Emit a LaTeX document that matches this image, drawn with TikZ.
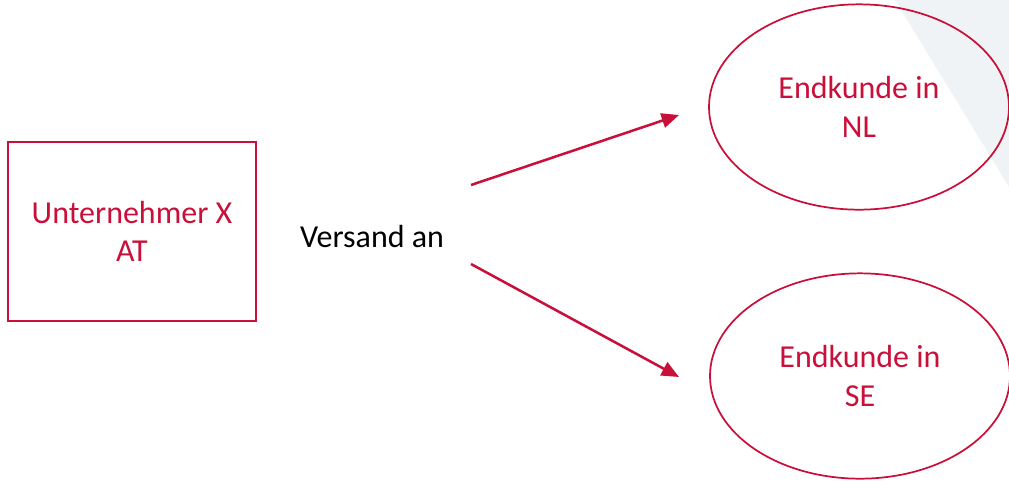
\documentclass[tikz,border=0pt]{standalone}
\usepackage{fontspec}
\setmainfont{Carlito}
\usetikzlibrary{shapes.geometric,arrows.meta}
\definecolor{brandred}{RGB}{200,16,58}
\definecolor{panelgray}{RGB}{239,243,246}
\tikzset{
  lbl/.style={text=brandred, font=\fontsize{24}{29}\selectfont, align=center},
  partybox/.style={lbl, draw=brandred, line width=1.5pt, rectangle, minimum width=186pt, minimum height=134pt, inner sep=0pt},
  customer/.style={lbl, draw=brandred, line width=1.3pt, ellipse, minimum width=225pt, minimum height=154pt, inner sep=0pt},
  ship/.style={draw=brandred, line width=1.9pt, -{Triangle[length=13pt,width=11pt]}}
}
\begin{document}
\begin{tikzpicture}[x=0.75pt,y=-0.75pt]
  \useasboundingbox (0,0) rectangle (1009,480);
  % light corner panel
  \fill[panelgray] (895,0) -- (1009,0) -- (1009,187) -- cycle;
  % sender
  \node[partybox] (sender) at (132,231.5) {Unternehmer X\\AT};
  \node[font=\fontsize{24}{29}\selectfont, text=black] (via) at (372,236) {Versand an};
  % customers
  \node[customer] (nl) at (859,107) {Endkunde in\\NL};
  \node[customer] (se) at (860,376) {Endkunde in\\SE};
  % shipment arrows
  \coordinate (a1) at (471,185);
  \coordinate (b1) at (679,115);
  \coordinate (a2) at (471,264);
  \coordinate (b2) at (679,377);
  \draw[ship] (a1) -- (b1);
  \draw[ship] (a2) -- (b2);
\end{tikzpicture}
\end{document}
